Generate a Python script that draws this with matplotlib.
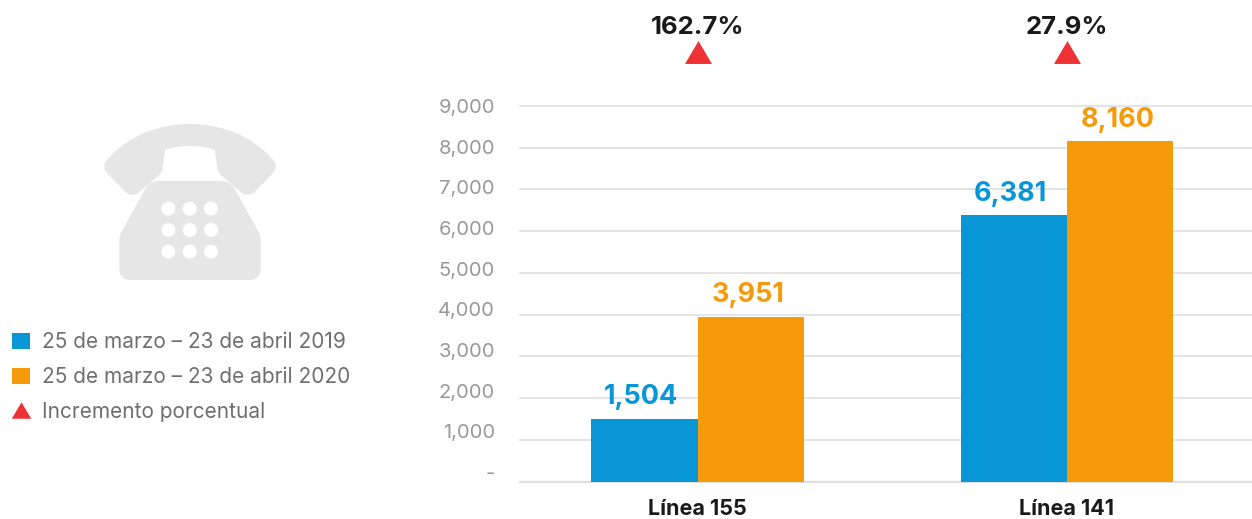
"""Llamadas a las líneas 155 y 141, 2019 vs 2020."""
import matplotlib
matplotlib.use("Agg")
import matplotlib.pyplot as plt
from matplotlib.lines import Line2D
from matplotlib.patches import Circle, PathPatch, Patch
from matplotlib.path import Path

W, H = 1252, 519

categories = ["Línea 155", "Línea 141"]
values_2019 = [1504, 6381]
values_2020 = [3951, 8160]
increments = ["162.7%", "27.9%"]
yticks = [0, 1000, 2000, 3000, 4000, 5000, 6000, 7000, 8000, 9000]
legend_labels = ["25 de marzo – 23 de abril 2019",
                 "25 de marzo – 23 de abril 2020",
                 "Incremento porcentual"]

BLUE = "#0996D6"
ORANGE = "#F59A0A"
RED = "#EE3135"
GRID = "#DFDFDF"
TICK = "#999999"
LEGEND_TXT = "#6F6F6F"
ICON = "#E6E6E6"

plt.rcParams["font.family"] = ["Inter", "DejaVu Sans"]


def draw_phone(ov):
    """Icono del teléfono, trazado en coordenadas del recorte 3x del original."""
    def pt(x, y):
        return (90 + x / 3, 110 + y / 3)

    M, L, C = Path.MOVETO, Path.LINETO, Path.CURVE4
    handset = [
        (M, 47, 155), (C, 110, 75), (C, 210, 42), (C, 300, 42),
        (C, 390, 42), (C, 490, 75), (C, 553, 155),
        (C, 560, 165), (C, 558, 178), (C, 550, 188),
        (L, 497, 243), (C, 485, 256), (C, 468, 258), (C, 455, 248),
        (L, 398, 200), (C, 385, 190), (C, 382, 180), (C, 381, 165),
        (L, 374, 120), (C, 340, 104), (C, 260, 104), (C, 226, 120),
        (L, 219, 165), (C, 218, 180), (C, 215, 190), (C, 202, 200),
        (L, 145, 248), (C, 132, 258), (C, 115, 256), (C, 103, 243),
        (L, 50, 188), (C, 42, 178), (C, 40, 165), (C, 47, 155),
    ]
    body = [
        (M, 210, 213), (L, 390, 213), (C, 412, 213), (C, 425, 220), (C, 435, 238),
        (L, 505, 365), (C, 510, 374), (C, 512, 380), (C, 512, 392),
        (L, 512, 478), (C, 512, 498), (C, 498, 510), (C, 480, 510),
        (L, 120, 510), (C, 102, 510), (C, 88, 498), (C, 88, 478),
        (L, 88, 392), (C, 88, 380), (C, 90, 374), (C, 95, 365),
        (L, 165, 238), (C, 175, 220), (C, 188, 213), (C, 210, 213),
    ]
    for shape in (handset, body):
        codes = [s[0] for s in shape]
        verts = [pt(s[1], s[2]) for s in shape]
        ov.add_patch(PathPatch(Path(verts, codes), fc=ICON, ec="none"))
    for zy in (296, 360, 425):
        for zx in (235, 299, 363):
            ov.add_patch(Circle(pt(zx, zy), 7, fc="white", ec="none"))


def main():
    fig = plt.figure(figsize=(W / 100, H / 100), dpi=100, facecolor="white")
    ax = fig.add_axes([520 / W, (H - 481.5) / H, 732 / W, 375.5 / H])

    x = list(range(len(categories)))
    width = 0.287
    b19 = ax.bar([i - width / 2 for i in x], values_2019, width, color=BLUE, zorder=3)
    b20 = ax.bar([i + width / 2 for i in x], values_2020, width, color=ORANGE, zorder=3)
    # the value labels sit slightly left of the bar centres in the original
    for bars, col, dx in ((b19, BLUE, -2.5), (b20, ORANGE, -1.5)):
        for lb in ax.bar_label(bars, fmt="{:,.0f}", color=col, fontsize=19.5,
                               fontweight="bold", padding=6):
            lb.xyann = (dx, 6)

    ax.set_xlim(-0.4804, 1.5007)
    ax.set_ylim(0, 9000)
    ax.set_yticks(yticks)
    ax.set_yticklabels([])
    ax.set_xticks(x, categories)
    ax.grid(axis="y", color=GRID, lw=1.2, zorder=0, clip_on=False)
    ax.set_axisbelow(True)
    for s in ("top", "right", "left"):
        ax.spines[s].set_visible(False)
    ax.spines["bottom"].set_color(GRID)
    ax.spines["bottom"].set_linewidth(1.6)
    ax.tick_params(axis="y", length=0)
    ax.tick_params(axis="x", length=0, pad=12.5, labelsize=15.5)
    for lb in ax.get_xticklabels():
        lb.set_fontweight("bold")
        lb.set_color("#1A1A1A")

    # y labels drift from the gridlines in the original: 40.67 px per step, not 41.72
    for v in yticks:
        drift = (9000 - v) / 1000 * (41.72 - 40.67) * 0.72 - 1.4
        ax.annotate("-" if v == 0 else f"{v:,.0f}", (0, v), xycoords=ax.get_yaxis_transform(),
                    xytext=(-18, drift), textcoords="offset points", ha="right",
                    va="center", fontsize=14.5, color=TICK, annotation_clip=False)

    # triangulos de incremento por encima del area del grafico
    tri = [(-1, -0.85), (1, -0.85), (0, 0.85)]
    for i, txt in zip(x, increments):
        ax.plot([i], [10296], marker=tri, ms=19.4, color=RED, mec="none", clip_on=False, ls="none")
        ax.annotate(txt, (i, 10296), xytext=(0, 17.5), textcoords="offset points", ha="center",
                    va="center", fontsize=18.5, fontweight="bold", color="#1A1A1A",
                    annotation_clip=False)

    handles = [Patch(fc=BLUE, ec="none"), Patch(fc=ORANGE, ec="none"),
               Line2D([], [], marker=tri, ms=14, color=RED, mec="none", ls="none")]
    fig.legend(handles, legend_labels, loc="upper left", bbox_to_anchor=(6 / W, 1 - 326 / H),
               frameon=False, fontsize=15, labelcolor=LEGEND_TXT, handlelength=0.85,
               handleheight=0.85, handletextpad=0.56, labelspacing=0.72, borderpad=0.3,
               borderaxespad=0)

    ov = fig.add_axes([0, 0, 1, 1], zorder=-1)
    ov.set_xlim(0, W)
    ov.set_ylim(H, 0)
    ov.axis("off")
    draw_phone(ov)

    fig.savefig("out.png", dpi=100)
    plt.close(fig)


if __name__ == "__main__":
    main()
